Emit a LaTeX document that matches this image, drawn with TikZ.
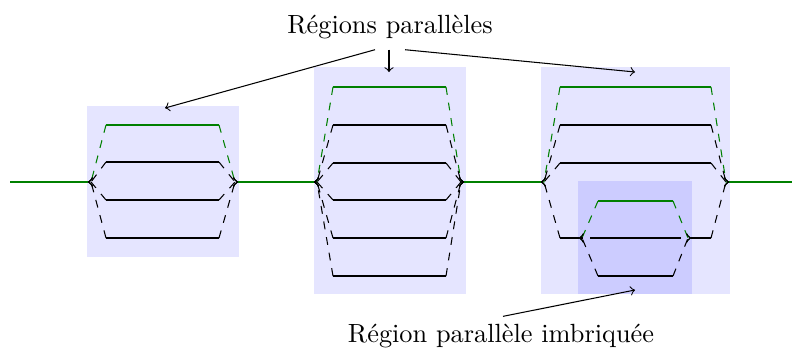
\documentclass[tikz,border=0pt]{standalone}
\usetikzlibrary{calc}

\tikzset{
  region/.style={fill=blue!10},
  subregion/.style={fill=blue!20},
  flow/.style={green!50!black},
  link/.style={dashed,->},
  lbl/.style={anchor=base, inner sep=3.33pt},
}

% one branch of a parallel region: dashed link from the fork,
% solid body from x1 to x2 at height y, dashed link into the join;
% the last short piece of each link is level, so the tips lie flat
\newcommand\pbranch[6]{% fork, join, y, x1, x2, colour
  \draw[#6,link] (#4,#3) -- ($(#1)+(3,0)$) -- (#1);
  \draw[#6] (#4,#3) -- (#5,#3);
  \draw[#6,link] (#5,#3) -- ($(#2)+(-3,0)$) -- (#2);
}

\begin{document}
\begin{tikzpicture}[x=0.38pt,y=-0.38pt]
  \useasboundingbox (0,0) rectangle (792,347);

  % region backgrounds
  \fill[region] (87,106) rectangle (239,257);
  \fill[region] (314,67) rectangle (466,294);
  \fill[region] (541,67) rectangle (730,294);
  \fill[subregion] (578,181) rectangle (692,294);

  % forks and joins
  \coordinate (s)  at (10,182);
  \coordinate (f1) at (88,182);
  \coordinate (j1) at (238,182);
  \coordinate (f2) at (314,182);
  \coordinate (j2) at (464,182);
  \coordinate (f3) at (541,182);
  \coordinate (j3) at (729,182);
  \coordinate (f4) at (579,238);
  \coordinate (j4) at (691,238);
  \coordinate (e)  at (792,182);

  % main flow
  \draw[flow] (s) -- (f1);
  \draw[flow] (j1) -- (f2);
  \draw[flow] (j2) -- (f3);
  \draw[flow] (j3) -- (e);

  % first region
  \pbranch{f1}{j1}{125}{106}{219}{flow}
  \pbranch{f1}{j1}{162}{106}{219}{black}
  \pbranch{f1}{j1}{200}{106}{219}{black}
  \pbranch{f1}{j1}{238}{106}{219}{black}

  % second region
  \pbranch{f2}{j2}{87}{333}{446}{flow}
  \pbranch{f2}{j2}{125}{333}{446}{black}
  \pbranch{f2}{j2}{163}{333}{446}{black}
  \pbranch{f2}{j2}{200}{333}{446}{black}
  \pbranch{f2}{j2}{238}{333}{446}{black}
  \pbranch{f2}{j2}{276}{333}{446}{black}

  % third region
  \pbranch{f3}{j3}{87}{560}{711}{flow}
  \pbranch{f3}{j3}{125}{560}{711}{black}
  \pbranch{f3}{j3}{163}{560}{711}{black}
  % branch holding the nested region
  \draw[link] (560,238) -- ($(f3)+(3,0)$) -- (f3);
  \draw (560,238) -- (f4);
  \draw (j4) -- (711,238);
  \draw[link] (711,238) -- ($(j3)+(-3,0)$) -- (j3);

  % nested region
  \pbranch{f4}{j4}{201}{598}{673}{flow}
  \pbranch{f4}{j4}{238}{598}{673}{black}
  \pbranch{f4}{j4}{276}{598}{673}{black}

  % labels
  \node[lbl] (top) at (390,33) {Régions parallèles};
  \coordinate (t1) at (165,108);
  \coordinate (t2) at (389,72);
  \coordinate (t3) at (635,72);
  \draw[->] ($(top.south)+(-15,2)$) -- (t1);
  \draw[->] ($(top.south)+(-1,2)$) -- (t2);
  \draw[->] ($(top.south)+(15,2)$) -- (t3);

  \node[lbl] (bot) at (501,342) {Région parallèle imbriquée};
  \coordinate (t4) at (635,290);
  \draw[->] ($(bot.north)+(2,2)$) -- (t4);
\end{tikzpicture}
\end{document}
